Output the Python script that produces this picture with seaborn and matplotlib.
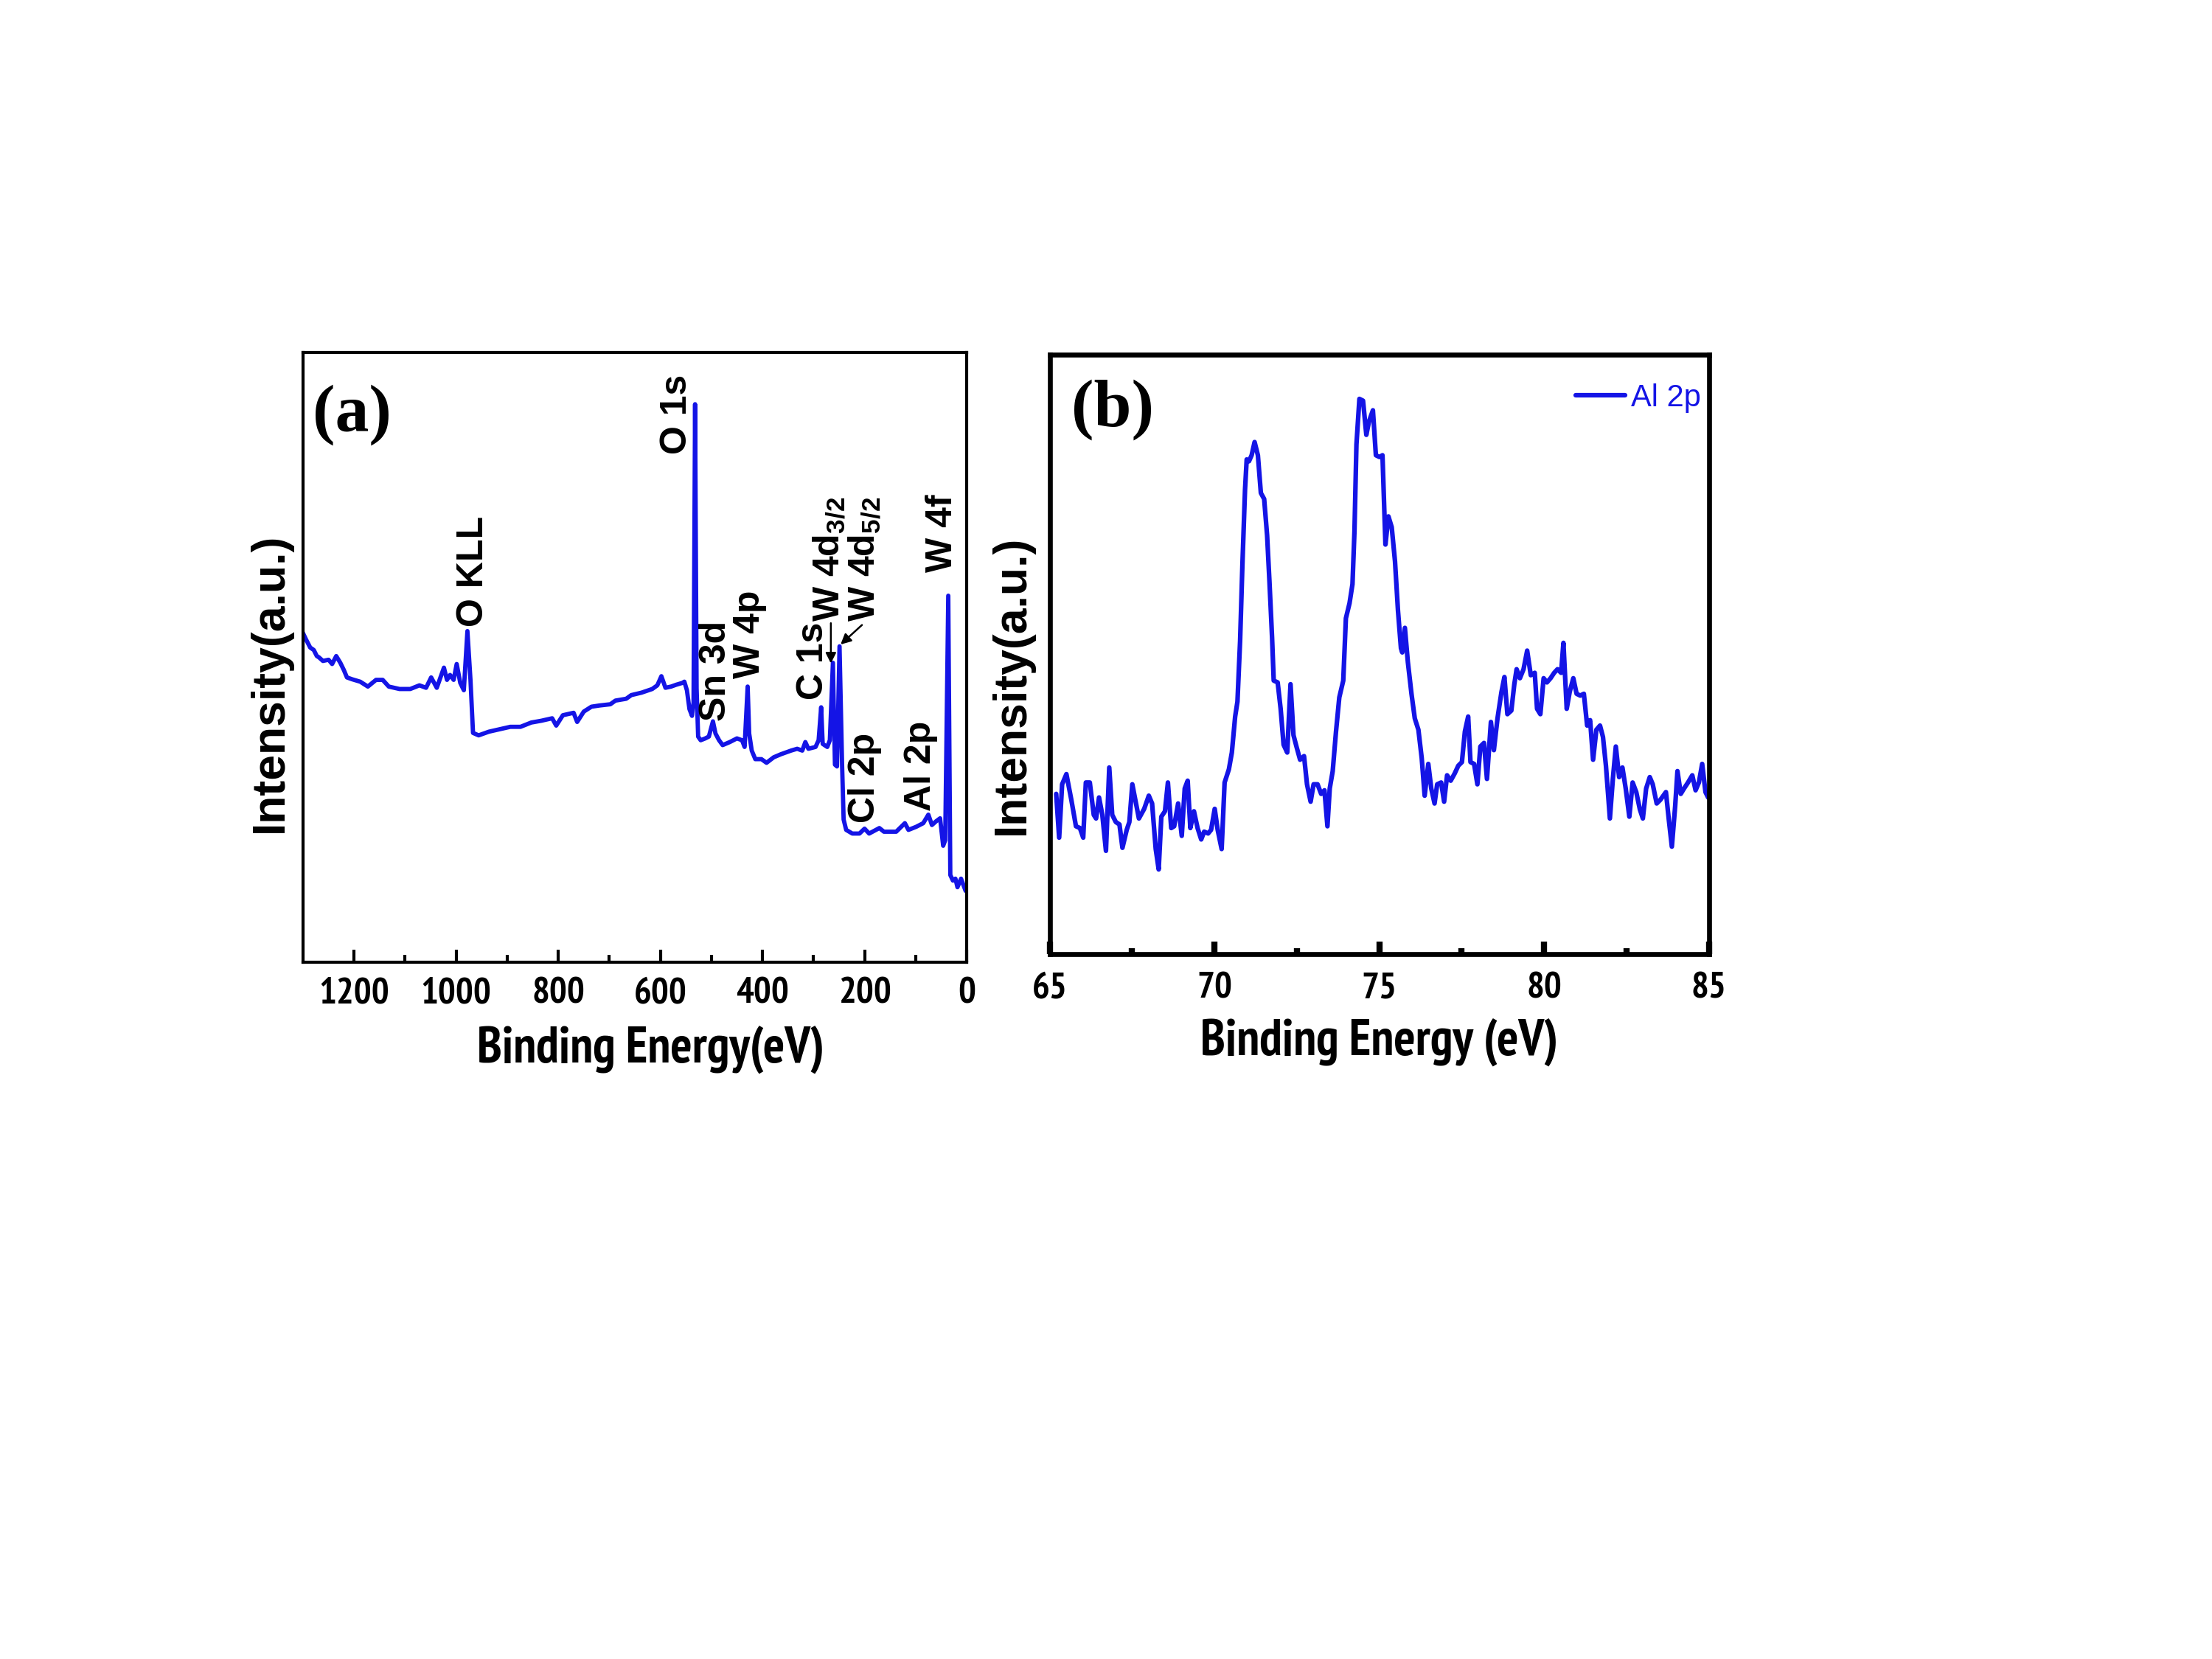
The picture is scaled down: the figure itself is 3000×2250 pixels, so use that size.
import numpy as np
import pandas as pd
import matplotlib
matplotlib.use('Agg')
import matplotlib.pyplot as plt
import seaborn as sns

# ── Data (intensity as fraction of axis height) ──────────────────────────────
# (a) survey spectrum
survey_be = [1302, 1294, 1286, 1279, 1273, 1269, 1261, 1250, 1243, 1235, 1227,
             1220, 1214, 1204, 1188, 1173, 1157, 1144, 1132, 1111, 1090, 1072,
             1059, 1049, 1038, 1024, 1018, 1012, 1005, 999, 992, 985, 978, 972,
             967, 956, 936, 915, 894, 874, 853, 833, 812, 804, 791, 770, 763,
             750, 735, 719, 698, 688, 667, 657, 637, 616, 606, 598, 590, 579,
             569, 557, 553, 548, 543, 538, 535, 532, 529, 526, 521, 512, 505,
             497, 492, 485, 478, 464, 450, 440, 435, 429, 426, 421, 414, 402,
             392, 378, 364, 344, 332, 322, 316, 310, 296, 290, 285, 282, 273,
             268, 262, 258, 254, 249, 244, 241, 236, 224, 210, 200, 191, 171,
             162, 138, 121, 114, 99, 85, 75, 68, 60, 52, 46, 42, 36, 32, 27,
             22, 18, 11, 6, 2]
survey_int = [0.543, 0.529, 0.516, 0.512, 0.502, 0.500, 0.494, 0.496, 0.489,
              0.502, 0.491, 0.479, 0.467, 0.464, 0.460, 0.452, 0.463, 0.463,
              0.452, 0.448, 0.448, 0.454, 0.450, 0.467, 0.450, 0.483, 0.463,
              0.471, 0.463, 0.489, 0.458, 0.446, 0.543, 0.463, 0.376, 0.372,
              0.378, 0.382, 0.386, 0.386, 0.393, 0.396, 0.400, 0.388, 0.405,
              0.409, 0.394, 0.411, 0.419, 0.421, 0.423, 0.429, 0.432, 0.438,
              0.442, 0.448, 0.454, 0.469, 0.450, 0.452, 0.455, 0.458, 0.460,
              0.446, 0.415, 0.404, 0.426, 0.915, 0.449, 0.370, 0.364, 0.367,
              0.370, 0.395, 0.375, 0.364, 0.356, 0.361, 0.367, 0.364, 0.353,
              0.452, 0.375, 0.347, 0.333, 0.333, 0.327, 0.336, 0.341, 0.347,
              0.350, 0.347, 0.361, 0.350, 0.353, 0.364, 0.418, 0.358, 0.353,
              0.364, 0.491, 0.324, 0.321, 0.518, 0.324, 0.234, 0.217, 0.211,
              0.211, 0.219, 0.211, 0.220, 0.214, 0.214, 0.228, 0.217, 0.222,
              0.228, 0.242, 0.225, 0.231, 0.236, 0.191, 0.200, 0.601, 0.143,
              0.134, 0.137, 0.123, 0.137, 0.126, 0.117]

# peak labels: text, x (eV), y (bottom of text)
peak_labels = ['O KLL', 'O 1s', 'Sn 3d', 'W 4p', 'C 1s',
               r'W 4d$_\mathbf{3/2}$', r'W 4d$_\mathbf{5/2}$', 'Cl 2p', 'Al 2p', 'W 4f']
peak_x = [966, 567, 491, 425, 301, 270, 200, 200, 90, 48]
peak_y = [0.550, 0.833, 0.395, 0.465, 0.430, 0.558, 0.558, 0.229, 0.248, 0.640]

# (b) Al 2p high resolution spectrum
al_be = [65.20, 65.29, 65.38, 65.51, 65.66, 65.80, 65.92, 66.02, 66.10, 66.22,
         66.34, 66.41, 66.50, 66.60, 66.71, 66.81, 66.90, 67.01, 67.12, 67.21,
         67.34, 67.42, 67.51, 67.71, 67.87, 68.01, 68.11, 68.22, 68.31, 68.39,
         68.50, 68.59, 68.69, 68.78, 68.90, 69.01, 69.10, 69.19, 69.27, 69.38,
         69.49, 69.60, 69.69, 69.81, 69.90, 70.01, 70.10, 70.22, 70.31, 70.44,
         70.53, 70.63, 70.70, 70.78, 70.85, 70.93, 70.98, 71.05, 71.13, 71.22,
         71.32, 71.41, 71.51, 71.60, 71.67, 71.75, 71.80, 71.92, 72.01, 72.10,
         72.21, 72.31, 72.40, 72.49, 72.60, 72.72, 72.81, 72.92, 73.01, 73.13,
         73.24, 73.34, 73.43, 73.50, 73.59, 73.69, 73.79, 73.91, 73.99, 74.10,
         74.19, 74.25, 74.31, 74.40, 74.51, 74.61, 74.69, 74.81, 74.90, 75.01,
         75.10, 75.19, 75.28, 75.38, 75.48, 75.57, 75.66, 75.70, 75.78, 75.87,
         75.98, 76.08, 76.19, 76.29, 76.38, 76.49, 76.58, 76.68, 76.76, 76.88,
         76.97, 77.06, 77.17, 77.29, 77.40, 77.51, 77.60, 77.70, 77.77, 77.88,
         77.98, 78.07, 78.18, 78.27, 78.39, 78.48, 78.59, 78.71, 78.80, 78.89,
         79.01, 79.10, 79.17, 79.27, 79.38, 79.49, 79.60, 79.72, 79.79, 79.89,
         79.99, 80.09, 80.20, 80.31, 80.41, 80.52, 80.59, 80.69, 80.78, 80.89,
         80.99, 81.10, 81.21, 81.31, 81.40, 81.49, 81.59, 81.70, 81.79, 81.88,
         82.00, 82.09, 82.18, 82.28, 82.38, 82.48, 82.59, 82.69, 82.80, 82.91,
         83.00, 83.10, 83.21, 83.30, 83.42, 83.53, 83.70, 83.79, 83.88, 83.98,
         84.05, 84.15, 84.25, 84.37, 84.50, 84.60, 84.70, 84.80, 84.90, 84.98]
al_int = [0.267, 0.194, 0.283, 0.300, 0.257, 0.213, 0.210, 0.194, 0.286, 0.286,
          0.232, 0.226, 0.261, 0.232, 0.172, 0.311, 0.232, 0.220, 0.216, 0.177,
          0.207, 0.220, 0.283, 0.226, 0.242, 0.264, 0.251, 0.175, 0.141, 0.229,
          0.238, 0.286, 0.210, 0.213, 0.251, 0.197, 0.276, 0.289, 0.210, 0.238,
          0.210, 0.191, 0.204, 0.201, 0.207, 0.242, 0.207, 0.175, 0.286, 0.308,
          0.336, 0.396, 0.421, 0.522, 0.649, 0.775, 0.825, 0.822, 0.832, 0.854,
          0.832, 0.769, 0.759, 0.698, 0.622, 0.528, 0.456, 0.453, 0.409, 0.349,
          0.336, 0.450, 0.365, 0.346, 0.324, 0.330, 0.283, 0.254, 0.283, 0.283,
          0.267, 0.273, 0.213, 0.276, 0.305, 0.371, 0.428, 0.456, 0.560, 0.585,
          0.617, 0.705, 0.850, 0.926, 0.923, 0.866, 0.888, 0.907, 0.832, 0.829,
          0.832, 0.683, 0.730, 0.712, 0.655, 0.573, 0.510, 0.503, 0.544, 0.487,
          0.434, 0.393, 0.374, 0.327, 0.264, 0.317, 0.276, 0.251, 0.283, 0.286,
          0.254, 0.298, 0.289, 0.301, 0.314, 0.320, 0.371, 0.396, 0.320, 0.317,
          0.283, 0.346, 0.352, 0.292, 0.387, 0.340, 0.393, 0.437, 0.462, 0.400,
          0.406, 0.450, 0.475, 0.460, 0.475, 0.506, 0.465, 0.469, 0.409, 0.400,
          0.460, 0.453, 0.460, 0.469, 0.475, 0.469, 0.519, 0.409, 0.437, 0.460,
          0.434, 0.431, 0.434, 0.381, 0.390, 0.324, 0.374, 0.381, 0.362, 0.314,
          0.226, 0.292, 0.346, 0.295, 0.311, 0.276, 0.229, 0.286, 0.270, 0.241,
          0.226, 0.276, 0.295, 0.283, 0.251, 0.257, 0.270, 0.223, 0.179, 0.246,
          0.305, 0.267, 0.276, 0.286, 0.298, 0.273, 0.286, 0.317, 0.270, 0.261]

survey = pd.DataFrame({'BE': survey_be, 'I': survey_int})
al2p = pd.DataFrame({'BE': al_be, 'I': al_int})

# ── Style ───────────────────────────────────────────────────────────────────
sns.set_style('ticks')
plt.rcParams['font.family'] = ['Liberation Sans', 'DejaVu Sans']
plt.rcParams['text.color'] = 'black'
plt.rcParams['axes.labelcolor'] = 'black'
plt.rcParams['axes.edgecolor'] = 'black'
plt.rcParams['xtick.color'] = 'black'
plt.rcParams['mathtext.fontset'] = 'custom'
plt.rcParams['mathtext.rm'] = 'Liberation Sans'
plt.rcParams['mathtext.bf'] = 'Liberation Sans:bold'
plt.rcParams['mathtext.it'] = 'Liberation Sans:italic'

blue = '#1414e6'
narrow = ['Liberation Sans Narrow', 'PT Sans Narrow', 'Archivo Narrow',
          'Roboto Condensed', 'Liberation Sans']
serif = ['Liberation Serif', 'DejaVu Serif']

fig = plt.figure(figsize=(10, 7.5), dpi=300)
ax_a = fig.add_axes([0.137, 0.420, 0.300, 0.3676])
ax_b = fig.add_axes([0.4745, 0.425, 0.2980, 0.3613])

# ── (a) survey ──────────────────────────────────────────────────────────────
sns.lineplot(data=survey, x='BE', y='I', ax=ax_a, color=blue, lw=1.4)
ax_a.set_xlim(1300, 0)
ax_a.set_ylim(0, 1)
ax_a.set_xticks([1200, 1000, 800, 600, 400, 200, 0])
ax_a.set_xticks(np.arange(100, 1300, 200), minor=True)
ax_a.set_yticks([])
ax_a.tick_params(axis='x', which='major', direction='in', length=4, width=1.0, pad=5)
ax_a.tick_params(axis='x', which='minor', direction='in', length=2.5, width=1.0)
for lab in ax_a.get_xticklabels():
    lab.set_fontfamily(narrow)
    lab.set_fontweight('bold')
    lab.set_fontsize(12)
for sp in ax_a.spines.values():
    sp.set_linewidth(1.0)
ax_a.set_xlabel('Binding Energy(eV)', fontsize=16.5, fontweight='bold', family=narrow)
ax_a.xaxis.set_label_coords(0.524, -0.105)
ax_a.set_ylabel('Intensity(a.u.)', fontsize=15, fontweight='bold')
ax_a.yaxis.set_label_coords(-0.017, 0.458)
ax_a.text(0.014, 0.898, '(a)', transform=ax_a.transAxes, fontsize=22,
          fontweight='bold', family=serif, va='center', ha='left')

for txt, xv, yv in zip(peak_labels, peak_x, peak_y):
    ax_a.text(xv, yv, txt, rotation=90, ha='center', va='bottom',
              fontsize=12, fontweight='bold')

arrow = dict(arrowstyle='-|>', color='black', lw=0.6, mutation_scale=7,
             shrinkA=0, shrinkB=0)
ax_a.annotate('', xy=(266, 0.49), xytext=(266, 0.556), arrowprops=arrow)
ax_a.annotate('', xy=(247, 0.521), xytext=(205, 0.553), arrowprops=arrow)

# ── (b) Al 2p ───────────────────────────────────────────────────────────────
sns.lineplot(data=al2p, x='BE', y='I', ax=ax_b, color=blue, lw=1.5, label='Al 2p')
ax_b.set_xlim(65, 85)
ax_b.set_ylim(0, 1)
ax_b.set_xticks([65, 70, 75, 80, 85])
ax_b.set_xticks([67.5, 72.5, 77.5, 82.5], minor=True)
ax_b.set_yticks([])
ax_b.tick_params(axis='x', which='major', direction='in', length=4, width=2.0, pad=6)
ax_b.tick_params(axis='x', which='minor', direction='in', length=2, width=2.0)
for lab in ax_b.get_xticklabels():
    lab.set_fontfamily(narrow)
    lab.set_fontweight('bold')
    lab.set_fontsize(12)
for sp in ax_b.spines.values():
    sp.set_linewidth(1.6)
ax_b.set_xlabel('Binding Energy (eV)', fontsize=16.5, fontweight='bold', family=narrow)
ax_b.xaxis.set_label_coords(0.5, -0.108)
ax_b.set_ylabel('Intensity(a.u.)', fontsize=15, fontweight='bold')
ax_b.yaxis.set_label_coords(-0.024, 0.449)
ax_b.text(0.033, 0.908, '(b)', transform=ax_b.transAxes, fontsize=22,
          fontweight='bold', family=serif, va='center', ha='left')
ax_b.legend(loc='upper right', bbox_to_anchor=(1.0, 0.965), frameon=False,
            labelcolor=blue, fontsize=10, handlelength=1.6, handletextpad=0.2,
            borderaxespad=0.05, borderpad=0.2)

fig.savefig('out.png', dpi=300)
